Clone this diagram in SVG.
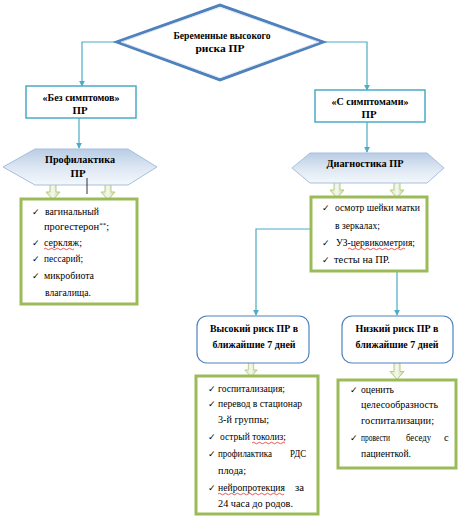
<svg xmlns="http://www.w3.org/2000/svg" width="461" height="522" viewBox="0 0 461 522">
<defs>
<linearGradient id="hexg" x1="0" y1="0" x2="0" y2="1">
<stop offset="0" stop-color="#B9CDE5"/><stop offset="0.5" stop-color="#DCE6F2"/><stop offset="1" stop-color="#F4F8FC"/>
</linearGradient>
<linearGradient id="arg" x1="0" y1="0" x2="1" y2="0">
<stop offset="0" stop-color="#D7E4BD"/><stop offset="0.5" stop-color="#F5F9EE"/><stop offset="1" stop-color="#C3D69B"/>
</linearGradient>
<marker id="ah" viewBox="0 0 8 8" refX="7" refY="4" markerWidth="6" markerHeight="6" orient="auto" markerUnits="userSpaceOnUse">
<path d="M0,0 L8,4 L0,8 Z" fill="#4BACC6"/>
</marker>
<symbol id="garrow" viewBox="0 0 14 17" overflow="visible">
<path d="M4,0 H10 V9 H14 L7,17 L0,9 H4 Z" fill="url(#arg)" stroke="#B5CB83" stroke-width="1"/>
</symbol>
</defs>
<style>
text{font-family:'Liberation Serif','Times New Roman',serif}
.t{font-size:10.5px;fill:#000}
.b{font-size:11px;font-weight:bold;text-anchor:middle}
.box{fill:#fff;stroke:#4BACC6;stroke-width:1.5}
.gbox{fill:#fff;stroke:#9BBB59;stroke-width:3}
.rbox{fill:#fff;stroke:#4F81BD;stroke-width:1.2}
.hex{fill:url(#hexg);stroke:#A7BFDE;stroke-width:1}
.ck{font-size:9px;fill:#000}
.con{fill:none;stroke:#4BACC6;stroke-width:1.2}
.sp{fill:none;stroke:#E03030;stroke-width:0.8}
</style>

<g id="connectors">
<path class="con" d="M117,42 H82 V86" marker-end="url(#ah)"/>
<path class="con" d="M323,42 H367 V90" marker-end="url(#ah)"/>
<path class="con" d="M79,118 V148" marker-end="url(#ah)"/>
<path class="con" d="M367,122 V152" marker-end="url(#ah)"/>
<path class="con" d="M311,229 H256 V315" marker-end="url(#ah)"/>
<path class="con" d="M397,271 V315" marker-end="url(#ah)"/>
<use href="#garrow" x="46" y="183" width="14" height="17"/>
<use href="#garrow" x="101" y="183" width="14" height="17"/>
<use href="#garrow" x="330" y="181" width="14" height="17"/>
<use href="#garrow" x="390" y="181" width="14" height="17"/>
<use href="#garrow" x="244" y="362" width="14" height="15"/>
<use href="#garrow" x="390" y="362" width="14" height="18"/>
</g>

<g id="start">
<polygon points="117,42 220,5 323,42 220,80" fill="#fff" stroke="#4F81BD" stroke-width="3"/>
<polygon points="121,42 220,7.5 319,42 220,77.5" fill="none" stroke="#DCE6F2" stroke-width="0.8"/>
<text class="b" x="222" y="39" textLength="97" lengthAdjust="spacingAndGlyphs">Беременные высокого</text>
<text class="b" x="220" y="52" textLength="49" lengthAdjust="spacingAndGlyphs">риска ПР</text>
</g>

<g id="no-symptoms">
<rect class="box" x="26" y="86" width="110" height="32"/>
<text class="b" x="81" y="101" textLength="77" lengthAdjust="spacingAndGlyphs">«Без симптомов»</text>
<text class="b" x="80" y="114" textLength="15" lengthAdjust="spacingAndGlyphs">ПР</text>
</g>

<g id="with-symptoms">
<rect class="box" x="315" y="90" width="110" height="32"/>
<text class="b" x="370" y="105" textLength="77" lengthAdjust="spacingAndGlyphs">«С симптомами»</text>
<text class="b" x="369" y="118" textLength="15" lengthAdjust="spacingAndGlyphs">ПР</text>
</g>

<g id="prophylaxis">
<polygon class="hex" points="3,167 35,149 128,149 157,167 128,185 35,185"/>
<text class="b" x="80" y="163" textLength="70" lengthAdjust="spacingAndGlyphs">Профилактика</text>
<text class="b" x="78" y="177" textLength="15" lengthAdjust="spacingAndGlyphs">ПР</text>
<line x1="87" y1="178" x2="87" y2="194" stroke="#000" stroke-width="0.8"/>
</g>

<g id="diagnostics">
<polygon class="hex" points="292,168 310,153 427,153 444,168 427,183 310,183"/>
<text class="b" x="365" y="167" textLength="77" lengthAdjust="spacingAndGlyphs">Диагностика ПР</text>
</g>

<g id="prophylaxis-list">
<rect class="gbox" x="21" y="199" width="116" height="105"/>
<text class="ck" x="32" y="215">✓</text><text class="t" x="45" y="215" textLength="54" lengthAdjust="spacingAndGlyphs">вагинальный</text>
<text class="t" x="44" y="230">прогестерон<tspan font-size="7" dy="-3">**</tspan><tspan dy="3">;</tspan></text>
<text class="ck" x="32" y="246">✓</text><text class="t" x="44" y="246" textLength="38" lengthAdjust="spacingAndGlyphs">серкляж;</text>
<path class="sp" d="M44,249 q1.5,-1.5 3,0 t3,0 t3,0 t3,0 t3,0 t3,0 t3,0 t3,0 t3,0 t3,0"/>
<text class="ck" x="32" y="262">✓</text><text class="t" x="44" y="262" textLength="39" lengthAdjust="spacingAndGlyphs">пессарий;</text>
<text class="ck" x="32" y="279">✓</text><text class="t" x="44" y="279" textLength="50" lengthAdjust="spacingAndGlyphs">микробиота</text>
<text class="t" x="45" y="296" textLength="46" lengthAdjust="spacingAndGlyphs">влагалища.</text>
</g>

<g id="diagnostics-list">
<rect class="gbox" x="311" y="197" width="116" height="74"/>
<text class="ck" x="322" y="211">✓</text><text class="t" x="335" y="211" textLength="85" lengthAdjust="spacingAndGlyphs">осмотр шейки матки</text>
<text class="t" x="335" y="229" textLength="45" lengthAdjust="spacingAndGlyphs">в зеркалах;</text>
<text class="ck" x="322" y="246">✓</text><text class="t" x="336" y="246" textLength="79" lengthAdjust="spacingAndGlyphs">УЗ-цервикометрия;</text>
<path class="sp" d="M348,249 q1.5,-1.5 3,0 t3,0 t3,0 t3,0 t3,0 t3,0 t3,0 t3,0 t3,0 t3,0 t3,0 t3,0 t3,0 t3,0 t3,0 t3,0 t3,0 t3,0 t3,0"/>
<text class="ck" x="322" y="263">✓</text><text class="t" x="334" y="263" textLength="56" lengthAdjust="spacingAndGlyphs">тесты на ПР.</text>
</g>

<g id="high-risk">
<rect class="rbox" x="197" y="316" width="112" height="47" rx="10"/>
<text class="b" x="254" y="332" textLength="88" lengthAdjust="spacingAndGlyphs">Высокий риск ПР в</text>
<text class="b" x="254" y="348" font-size="10" textLength="83" lengthAdjust="spacingAndGlyphs">ближайшие 7 дней</text>
</g>

<g id="low-risk">
<rect class="rbox" x="342" y="316" width="111" height="47" rx="10"/>
<text class="b" x="397" y="332" textLength="83" lengthAdjust="spacingAndGlyphs">Низкий риск ПР в</text>
<text class="b" x="397" y="348" font-size="10" textLength="83" lengthAdjust="spacingAndGlyphs">ближайшие 7 дней</text>
</g>

<g id="high-risk-list">
<rect class="gbox" x="196" y="376" width="122" height="138"/>
<text class="ck" x="208" y="392">✓</text><text class="t" x="218" y="392" textLength="67" lengthAdjust="spacingAndGlyphs">госпитализация;</text>
<text class="ck" x="208" y="407">✓</text><text class="t" x="218" y="407" textLength="84" lengthAdjust="spacingAndGlyphs">перевод в стационар</text>
<text class="t" x="218" y="423" textLength="51" lengthAdjust="spacingAndGlyphs">3-й группы;</text>
<text class="ck" x="208" y="440">✓</text><text class="t" x="220" y="440" textLength="66" lengthAdjust="spacingAndGlyphs">острый токолиз;</text>
<path class="sp" d="M252,443 q1.5,-1.5 3,0 t3,0 t3,0 t3,0 t3,0 t3,0 t3,0 t3,0 t3,0 t3,0 t3,0"/>
<text class="ck" x="208" y="457">✓</text><text class="t" y="457"><tspan x="218" textLength="54" lengthAdjust="spacingAndGlyphs">профилактика</tspan><tspan x="290" textLength="16" lengthAdjust="spacingAndGlyphs">РДС</tspan></text>
<text class="t" x="218" y="474" textLength="28" lengthAdjust="spacingAndGlyphs">плода;</text>
<text class="ck" x="208" y="491">✓</text><text class="t" y="491"><tspan x="218" textLength="67" lengthAdjust="spacingAndGlyphs">нейропротекция</tspan><tspan x="295" textLength="9" lengthAdjust="spacingAndGlyphs">за</tspan></text>
<path class="sp" d="M218,494 q1.5,-1.5 3,0 t3,0 t3,0 t3,0 t3,0 t3,0 t3,0 t3,0 t3,0 t3,0 t3,0 t3,0 t3,0 t3,0 t3,0 t3,0 t3,0 t3,0 t3,0 t3,0 t3,0 t3,0"/>
<text class="t" x="218" y="507" textLength="75" lengthAdjust="spacingAndGlyphs">24 часа до родов.</text>
</g>

<g id="low-risk-list">
<rect class="gbox" x="338" y="380" width="118" height="88"/>
<text class="ck" x="350" y="393">✓</text><text class="t" x="361" y="393" textLength="33" lengthAdjust="spacingAndGlyphs">оценить</text>
<text class="t" x="361" y="408" textLength="77" lengthAdjust="spacingAndGlyphs">целесообразность</text>
<text class="t" x="361" y="424" textLength="73" lengthAdjust="spacingAndGlyphs">госпитализации;</text>
<text class="ck" x="350" y="441">✓</text><text class="t" y="441"><tspan x="361" textLength="29" lengthAdjust="spacingAndGlyphs">провести</tspan><tspan x="406" textLength="25" lengthAdjust="spacingAndGlyphs">беседу</tspan><tspan x="444">с</tspan></text>
<text class="t" x="361" y="457" textLength="50" lengthAdjust="spacingAndGlyphs">пациенткой.</text>
</g>
</svg>
